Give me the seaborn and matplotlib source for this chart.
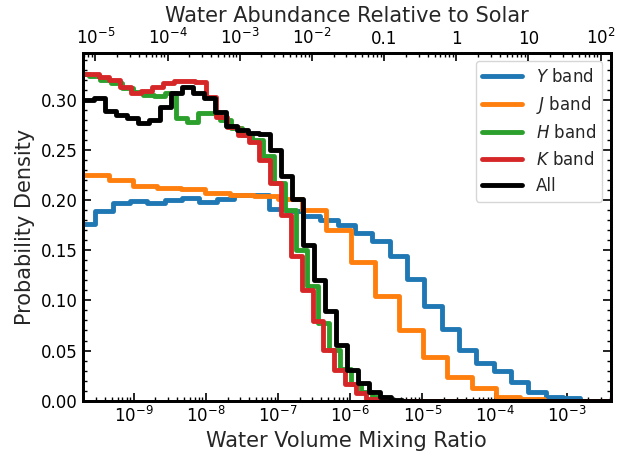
import numpy as np
import pandas as pd
import matplotlib
matplotlib.use("Agg")
import matplotlib.pyplot as plt
import matplotlib.ticker as mticker
import seaborn as sns

# Histogram bins are uniform in log10(VMR): first edge and bin width per band
y_lo, y_w = -9.770, 0.2399
j_lo, j_w = -10.017, 0.3352
h_lo, h_w = -9.769, 0.1510
k_lo, k_w = -9.781, 0.1483
all_lo, all_w = -9.705, 0.1524

# Probability density per bin (per dex)
y_density = [0.176, 0.189, 0.197, 0.1996, 0.197, 0.200, 0.202, 0.198, 0.201, 0.205,
             0.205, 0.191, 0.189, 0.184, 0.180, 0.175, 0.167, 0.159, 0.144, 0.121,
             0.0945, 0.071, 0.051, 0.038, 0.030, 0.019, 0.009, 0.004, 0.0024, 0.0, 0.0]
j_density = [0.225, 0.225, 0.2196, 0.2136, 0.2125, 0.2115, 0.207, 0.205, 0.2036, 0.201,
             0.190, 0.170, 0.138, 0.104, 0.070, 0.044, 0.024, 0.0124, 0.004, 0.0014,
             0.0, 0.0, 0.0]
h_density = [0.326, 0.324, 0.320, 0.317, 0.312, 0.308, 0.305, 0.304, 0.307, 0.282,
             0.278, 0.287, 0.287, 0.280, 0.272, 0.265, 0.260, 0.244, 0.217, 0.190,
             0.150, 0.114, 0.077, 0.051, 0.032, 0.017, 0.009, 0.004, 0.001] + [0.0] * 20
k_density = [0.326, 0.326, 0.323, 0.320, 0.313, 0.307, 0.309, 0.313, 0.317, 0.319,
             0.319, 0.318, 0.303, 0.283, 0.273, 0.265, 0.258, 0.240, 0.217, 0.185,
             0.144, 0.110, 0.079, 0.051, 0.031, 0.017, 0.008, 0.002] + [0.0] * 22
all_density = [0.300, 0.302, 0.289, 0.285, 0.282, 0.277, 0.280, 0.293, 0.307, 0.313,
               0.307, 0.302, 0.288, 0.274, 0.270, 0.267, 0.266, 0.250, 0.224, 0.201,
               0.155, 0.120, 0.089, 0.056, 0.031, 0.018, 0.009, 0.004, 0.001] + [0.0] * 19

labels = ["$Y$ band", "$J$ band", "$H$ band", "$K$ band", "All"]
colors = ["#1f77b4", "#ff7f0e", "#2ca02c", "#d62728", "black"]

# Solar water mixing ratio used for the upper axis
solar_h2o = 10 ** -4.53
x_range = (10 ** -9.705, 10 ** -2.39)
bottom_ticks = [1e-9, 1e-8, 1e-7, 1e-6, 1e-5, 1e-4, 1e-3]
y_ticks = [0.0, 0.05, 0.10, 0.15, 0.20, 0.25, 0.30]
top_ticks = [1e-5, 1e-4, 1e-3, 1e-2, 0.1, 1, 10, 100]
top_labels = ["$10^{-5}$", "$10^{-4}$", "$10^{-3}$", "$10^{-2}$", "0.1", "1", "10", "$10^{2}$"]


def step_frame(lo, width, dens):
    edges = lo + width * np.arange(len(dens) + 1)
    return pd.DataFrame({"vmr": 10 ** edges, "density": list(dens) + [dens[-1]]})


sns.set_style("ticks")
plt.rcParams.update({
    "font.family": ["DejaVu Sans"],
    "xtick.direction": "in", "ytick.direction": "in",
    "xtick.major.size": 6, "ytick.major.size": 6,
    "xtick.minor.size": 3, "ytick.minor.size": 3,
    "xtick.major.width": 1.2, "ytick.major.width": 1.2,
    "xtick.minor.width": 1.0, "ytick.minor.width": 1.0,
    "axes.linewidth": 2.0,
    "axes.edgecolor": "black",
    "xtick.color": "black", "ytick.color": "black",
    "xtick.labelsize": 12, "ytick.labelsize": 12,
})

fig = plt.figure(figsize=(6.29, 4.54), dpi=100)
ax = fig.add_axes([0.1315, 0.1174, 0.8395, 0.7666])

series = [(y_lo, y_w, y_density), (j_lo, j_w, j_density), (h_lo, h_w, h_density),
          (k_lo, k_w, k_density), (all_lo, all_w, all_density)]
for (lo, w, d), lab, col in zip(series, labels, colors):
    sns.lineplot(data=step_frame(lo, w, d), x="vmr", y="density", ax=ax,
                 drawstyle="steps-post", estimator=None, sort=False,
                 color=col, linewidth=3.5, label=lab)

ax.set_xscale("log")
ax.set_xlim(*x_range)
ax.set_ylim(0, 0.347)
ax.xaxis.set_major_locator(mticker.FixedLocator(bottom_ticks))
ax.xaxis.set_major_formatter(mticker.LogFormatterSciNotation())
ax.yaxis.set_major_locator(mticker.FixedLocator(y_ticks))
ax.yaxis.set_minor_locator(mticker.MultipleLocator(0.01))
ax.yaxis.set_major_formatter(mticker.FormatStrFormatter("%.2f"))
ax.tick_params(which="both", right=True, top=False)
ax.set_xlabel("Water Volume Mixing Ratio", fontsize=15)
ax.set_ylabel("Probability Density", fontsize=15)

leg = ax.legend(loc="upper right", fontsize=12, handlelength=2.4)
for line in leg.get_lines():
    line.set_linewidth(3.5)

ax2 = ax.twiny()
ax2.set_xscale("log")
ax2.set_xlim(x_range[0] / solar_h2o, x_range[1] / solar_h2o)
ax2.xaxis.set_major_locator(mticker.FixedLocator(top_ticks))
ax2.xaxis.set_major_formatter(mticker.FixedFormatter(top_labels))
ax2.tick_params(which="both", direction="in")
ax2.set_xlabel("Water Abundance Relative to Solar", fontsize=15)

fig.savefig("out.png", dpi=100)
